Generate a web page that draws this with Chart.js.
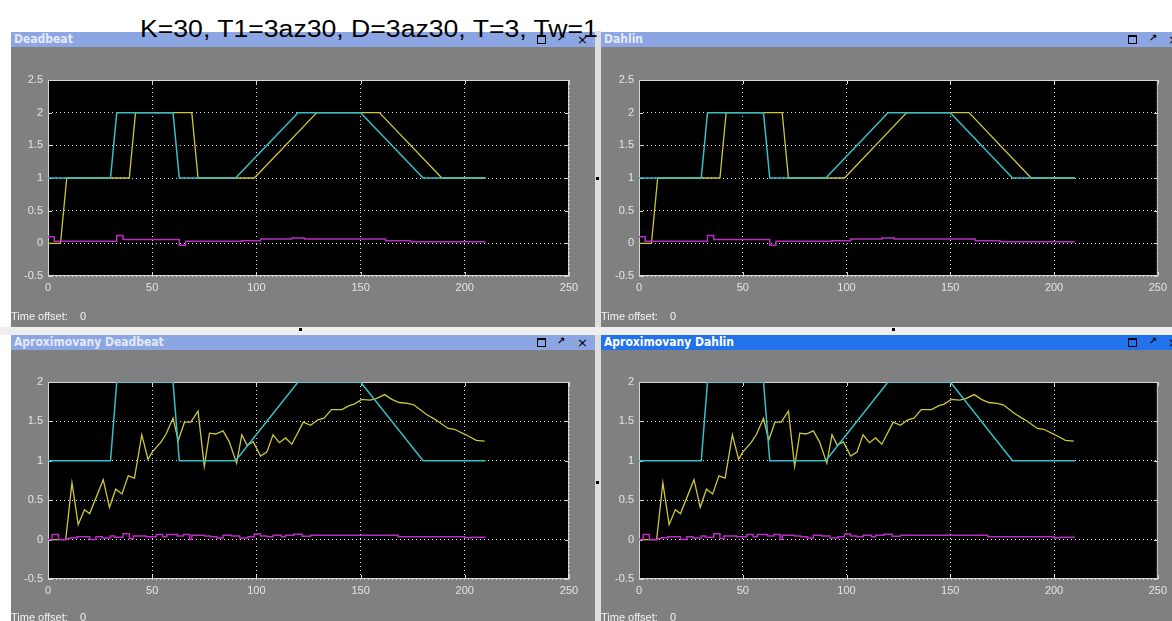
<!DOCTYPE html>
<html>
<head>
<meta charset="utf-8">
<script src="https://cdn.jsdelivr.net/npm/chart.js@4/dist/chart.umd.min.js"></script>
<style>
  html, body { margin:0; padding:0; background:#fff; width:1172px; height:621px; overflow:hidden; position:relative; }
  .win { position:absolute; background:#808080; overflow:hidden; }
  .bar { position:absolute; left:0; right:0; top:0; height:15px; background:#8ca6e3; }
  .bar.active { background:#2272eb; }
  .bar .name { position:absolute; left:3px; top:0; line-height:15px; font:bold 12px "DejaVu Sans Condensed","DejaVu Sans",sans-serif; color:#e4eaf8; white-space:pre; }
  .bar.active .name { color:#ffffff; }
  .ico-max { position:absolute; top:3px; width:7px; height:6px; border:1px solid #000; border-top-width:2px; }
  .ico-undock { position:absolute; top:0; line-height:15px; font:bold 10px "DejaVu Sans",sans-serif; color:#000; }
  .ico-close { position:absolute; top:0; line-height:15px; font:13px "DejaVu Sans",sans-serif; color:#000; }
  .body { position:absolute; left:0; right:0; top:15px; bottom:0; }
  .body canvas { position:absolute; left:0; top:0; }
  .offset { position:absolute; left:0; font:11px "Liberation Sans",Arial,sans-serif; color:#f2f2f2; white-space:pre; line-height:13px; }
  .sep-v { position:absolute; left:595px; width:6px; top:31px; height:590px; background:#dedede; }
  .sep-h { position:absolute; left:0; width:1172px; top:327px; height:8px; background:#eeeeee; }
  .dot { position:absolute; width:3px; height:3px; background:#000; }
  #heading { position:absolute; left:140px; top:18px; font:23px "Liberation Sans",Arial,sans-serif; line-height:23px; color:#000; white-space:pre; transform-origin:0 0; z-index:10; }
</style>
</head>
<body>

<div class="sep-v"></div>
<div class="sep-h"></div>

<div class="win" style="left:11px; top:32px; width:584px; height:295px;">
  <div class="bar"><span class="name">Deadbeat</span>
    <div class="ico-max" style="left:526px"></div><span class="ico-undock" style="left:546px">↗</span><span class="ico-close" style="left:566px">×</span></div>
  <div class="body"><canvas id="c1" width="584" height="280"></canvas>
    <span class="offset" style="top:263px">Time offset:</span><span class="offset" style="top:263px; left:69px">0</span></div>
</div>

<div class="win" style="left:601px; top:32px; width:571px; height:295px;">
  <div class="bar"><span class="name">Dahlin</span>
    <div class="ico-max" style="left:527px"></div><span class="ico-undock" style="left:548px">↗</span><span class="ico-close" style="left:567px">×</span></div>
  <div class="body"><canvas id="c2" width="571" height="280"></canvas>
    <span class="offset" style="top:263px">Time offset:</span><span class="offset" style="top:263px; left:69px">0</span></div>
</div>

<div class="win" style="left:11px; top:335px; width:584px; height:286px;">
  <div class="bar"><span class="name">Aproximovany Deadbeat</span>
    <div class="ico-max" style="left:526px"></div><span class="ico-undock" style="left:546px">↗</span><span class="ico-close" style="left:566px">×</span></div>
  <div class="body"><canvas id="c3" width="584" height="271"></canvas>
    <span class="offset" style="top:261px">Time offset:</span><span class="offset" style="top:261px; left:69px">0</span></div>
</div>

<div class="win" style="left:601px; top:335px; width:571px; height:286px;">
  <div class="bar active"><span class="name">Aproximovany Dahlin</span>
    <div class="ico-max" style="left:527px"></div><span class="ico-undock" style="left:548px">↗</span><span class="ico-close" style="left:567px">×</span></div>
  <div class="body"><canvas id="c4" width="571" height="271"></canvas>
    <span class="offset" style="top:261px">Time offset:</span><span class="offset" style="top:261px; left:69px">0</span></div>
</div>

<div class="dot" style="left:596px; top:177px"></div>
<div class="dot" style="left:299px; top:328px"></div>
<div class="dot" style="left:892px; top:328px"></div>
<div class="dot" style="left:596px; top:481px"></div>

<div id="heading">K=30, T1=3az30, D=3az30, T=3, Tw=1</div>

<script>
// Reference signal w(t)
const refTimes  = [0, 30, 33, 60, 63, 90, 120, 150, 180, 210];
const refValues = [1, 1, 2, 2, 1, 1, 2, 2, 1, 1];

// Plant output y(t) with the exact Deadbeat / Dahlin controllers
const outTimes  = [0, 6, 9, 39, 42, 69, 72, 99, 129, 159, 189, 210];
const outValues = [0, 0, 1, 1, 2, 2, 1, 1, 2, 2, 1, 1];

// Control action u(t) of the exact controllers (zero-order hold)
const ctrlTimes  = [0, 3, 33, 36, 63, 66, 93, 102, 117, 123, 162, 174, 210];
const ctrlValues = [0.1, 0.03, 0.12, 0.06, -0.03, 0.03, 0.04, 0.065, 0.08, 0.065, 0.04, 0.026, 0.026];

// Plant output y(t) with the approximated controllers
const apxOutTimes  = [0, 8.5, 11.5, 14.5, 17.5, 20, 26.5, 29.5, 32.5, 35.5, 38.5, 41.5, 45, 48, 50, 54, 56.5, 60, 62.5, 65.5, 68.5, 72, 75, 77.5, 80.5, 84, 87, 90.5, 93, 95.5, 98.5, 102, 105, 108, 111, 114, 117, 122.5, 126, 129.5, 132.5, 136, 141, 144.5, 147, 150.5, 154.5, 157.5, 161.5, 165, 168.5, 172.5, 175.5, 181.5, 186, 192, 195, 200.5, 205.5, 209.5];
const apxOutValues = [0, 0, 0.72, 0.19, 0.38, 0.33, 0.76, 0.41, 0.64, 0.58, 0.81, 0.78, 1.33, 1.02, 1.11, 1.23, 1.33, 1.54, 1.26, 1.49, 1.49, 1.63, 0.93, 1.35, 1.34, 1.38, 1.24, 0.97, 1.33, 1.2, 1.24, 1.06, 1.11, 1.33, 1.23, 1.29, 1.21, 1.49, 1.45, 1.52, 1.54, 1.65, 1.65, 1.7, 1.72, 1.78, 1.77, 1.79, 1.84, 1.78, 1.74, 1.73, 1.71, 1.59, 1.52, 1.41, 1.4, 1.33, 1.26, 1.25];

// Control action u(t) of the approximated controllers (zero-order hold)
const apxCtrlTimes  = [0, 2, 5, 9, 11, 14, 20, 23, 26, 30, 32, 36, 39, 41, 47, 52, 55, 57, 62, 65, 68, 69, 75, 78, 81, 84, 88, 92, 96, 99, 102, 105, 108, 112, 114, 118, 122, 126, 168, 200, 203, 210];
const apxCtrlValues = [0, 0.065, 0, 0.015, 0.025, 0.035, 0, 0.035, 0.02, 0.045, 0.03, 0.075, 0.015, 0.045, 0.035, 0.065, 0.035, 0.065, 0.045, 0.065, 0, 0.055, 0.045, 0.035, 0.02, 0.055, 0.045, 0.02, 0.035, 0.07, 0.045, 0.035, 0.055, 0.035, 0.055, 0.068, 0.042, 0.055, 0.035, 0.025, 0.03, 0.03];

// Axis ticks
const timeTicks = [0, 50, 100, 150, 200, 250];

const CYAN = '#35bfc6';
const YELLOW = '#cdc53c';
const MAGENTA = '#bb2cc4';
const LABEL = '#e4e4e4';

function pairs(times, values) {
  return times.map((t, i) => ({ x: t, y: values[i] }));
}

// Black plot area, solid frame and inward tick marks of a scope display
const scopeFrame = {
  id: 'scopeFrame',
  beforeDraw(chart) {
    const { ctx, chartArea: a } = chart;
    ctx.save();
    ctx.fillStyle = '#000';
    ctx.fillRect(a.left, a.top, a.right - a.left, a.bottom - a.top);
    ctx.restore();
  },
  beforeDatasetsDraw(chart) {
    const { ctx, chartArea: a, scales } = chart;
    ctx.save();
    ctx.setLineDash([]);
    ctx.strokeStyle = '#d6d6d6';
    ctx.lineWidth = 1;
    ctx.strokeRect(a.left + 0.5, a.top + 0.5, a.right - a.left - 1, a.bottom - a.top - 1);
    ctx.beginPath();
    scales.x.ticks.forEach(t => {
      const px = Math.round(scales.x.getPixelForValue(t.value)) + 0.5;
      ctx.moveTo(px, a.top); ctx.lineTo(px, a.top + 4);
      ctx.moveTo(px, a.bottom); ctx.lineTo(px, a.bottom - 4);
    });
    scales.y.ticks.forEach(t => {
      const py = Math.round(scales.y.getPixelForValue(t.value)) + 0.5;
      ctx.moveTo(a.left, py); ctx.lineTo(a.left + 4, py);
      ctx.moveTo(a.right, py); ctx.lineTo(a.right - 4, py);
    });
    ctx.stroke();
    ctx.restore();
  }
};

const plainNumber = v => String(Math.round(v * 100) / 100);

function makeScope(id, cfg) {
  const canvas = document.getElementById(id);
  const tickFont = { family: 'Liberation Sans', size: 11 };
  return new Chart(canvas, {
    type: 'line',
    data: {
      datasets: [
        { data: pairs(refTimes, refValues), borderColor: CYAN, borderWidth: 1.5, pointRadius: 0, tension: 0 },
        { data: pairs(cfg.ctrlT, cfg.ctrlV), borderColor: MAGENTA, borderWidth: 1.5, pointRadius: 0, stepped: 'before' },
        { data: pairs(cfg.outT, cfg.outV), borderColor: YELLOW, borderWidth: 1.3, pointRadius: 0, tension: 0 }
      ]
    },
    options: {
      responsive: false,
      animation: false,
      events: [],
      layout: { padding: { top: cfg.top, right: cfg.right, bottom: 0, left: 0 } },
      plugins: { legend: { display: false }, tooltip: { enabled: false } },
      scales: {
        x: {
          type: 'linear', min: timeTicks[0], max: timeTicks[timeTicks.length - 1],
          afterBuildTicks(s) { s.ticks = timeTicks.map(v => ({ value: v })); },
          ticks: { color: LABEL, font: tickFont, padding: 5, maxRotation: 0, callback: plainNumber },
          grid: { color: '#dcdcdc', lineWidth: 1, drawTicks: false },
          border: { display: false, dash: [1, 3] },
          afterFit(s) { s.height = cfg.xh; }
        },
        y: {
          type: 'linear', min: cfg.yMin, max: cfg.yMax,
          ticks: { stepSize: 0.5, color: LABEL, font: tickFont, padding: 5, callback: plainNumber },
          grid: { color: '#dcdcdc', lineWidth: 1, drawTicks: false },
          border: { display: false, dash: [1, 3] },
          afterFit(s) { s.width = cfg.yw; }
        }
      }
    },
    plugins: [scopeFrame]
  });
}

makeScope('c1', { outT: outTimes, outV: outValues, ctrlT: ctrlTimes, ctrlV: ctrlValues, yMin: -0.5, yMax: 2.5, top: 33, xh: 51, yw: 37, right: 26 });
makeScope('c2', { outT: outTimes, outV: outValues, ctrlT: ctrlTimes, ctrlV: ctrlValues, yMin: -0.5, yMax: 2.5, top: 33, xh: 51, yw: 38, right: 11 });
makeScope('c3', { outT: apxOutTimes, outV: apxOutValues, ctrlT: apxCtrlTimes, ctrlV: apxCtrlValues, yMin: -0.5, yMax: 2, top: 32, xh: 42, yw: 37, right: 26 });
makeScope('c4', { outT: apxOutTimes, outV: apxOutValues, ctrlT: apxCtrlTimes, ctrlV: apxCtrlValues, yMin: -0.5, yMax: 2, top: 32, xh: 42, yw: 38, right: 11 });

// stretch the heading to its printed width
const heading = document.getElementById('heading');
const w = heading.getBoundingClientRect().width;
heading.style.transform = 'scaleX(' + (458 / w).toFixed(3) + ')';
</script>
</body>
</html>
